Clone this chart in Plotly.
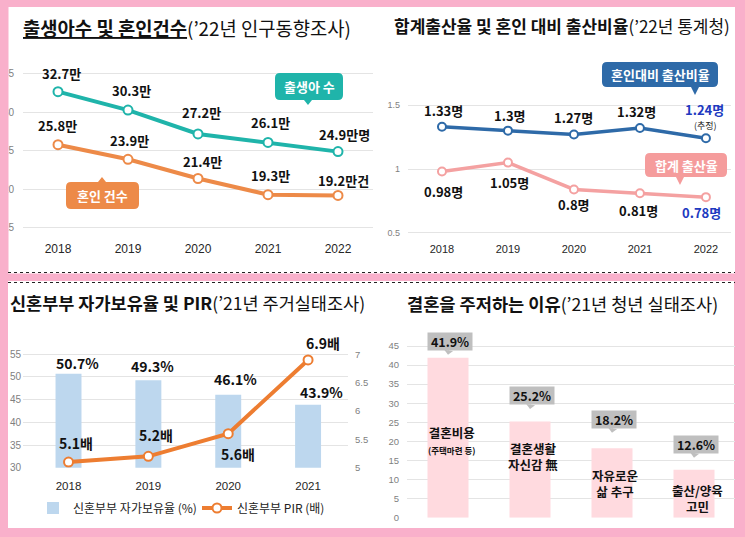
import plotly.graph_objects as go

W, H = 745, 537
PINK = '#F9B0CB'
KR = 'Noto Sans CJK KR'
NUM = 'Liberation Sans'

# ---------------- data ----------------
years = ['2018', '2019', '2020', '2021', '2022']
births = [32.7, 30.3, 27.2, 26.1, 24.9]
births_text = ['32.7만', '30.3만', '27.2만', '26.1만', '24.9만명']
marriages = [25.8, 23.9, 21.4, 19.3, 19.2]
marriages_text = ['25.8만', '23.9만', '21.4만', '19.3만', '19.2만건']

birth_ratio = [1.33, 1.30, 1.27, 1.32, 1.24]
birth_ratio_text = ['1.33명', '1.3명', '1.27명', '1.32명', '1.24명']
tfr = [0.98, 1.05, 0.84, 0.81, 0.78]
tfr_text = ['0.98명', '1.05명', '0.8명', '0.81명', '0.78명']

years_h = ['2018', '2019', '2020', '2021']
ownership = [50.7, 49.3, 46.1, 43.9]
ownership_text = ['50.7%', '49.3%', '46.1%', '43.9%']
pir = [5.1, 5.2, 5.6, 6.9]
pir_text = ['5.1배', '5.2배', '5.6배', '6.9배']

reasons = ['결혼비용', '결혼생활<br>자신감 無', '자유로운<br>삶 추구', '출산/양육<br>고민']
reason_notes = ['(주택마련 등)', '', '', '']
reason_pct = [41.9, 25.2, 18.2, 12.6]
reason_text = ['41.9%', '25.2%', '18.2%', '12.6%']

# ---------------- colours ----------------
TEAL = '#1FB4AA'
ORANGE = '#ED8A48'
BLUE = '#2E6AA8'
SALMON = '#F4A1A1'
NAVY_TXT = '#2039C0'
ORANGE2 = '#ED7D31'
LBLUE = '#BDD7EE'
LPINK = '#FFDADF'
GRID = '#E4E4E4'
GRAYBOX = '#BFBFBF'


def X(p):
    return p / W


def Y(p):
    return 1 - p / H


fig = go.Figure()

# ---------- top-left: births & marriages ----------
for vals, col in [(births, TEAL), (marriages, ORANGE)]:
    fig.add_trace(go.Scatter(
        x=years, y=vals, mode='lines+markers', xaxis='x', yaxis='y',
        line=dict(color=col, width=4),
        marker=dict(size=9, color='white', line=dict(color=col, width=2)),
        showlegend=False, hoverinfo='skip'))

# ---------- top-right: ratio & TFR ----------
for vals, col in [(birth_ratio, BLUE), (tfr, SALMON)]:
    fig.add_trace(go.Scatter(
        x=years, y=vals, mode='lines+markers', xaxis='x2', yaxis='y2',
        line=dict(color=col, width=3.5),
        marker=dict(size=8, color='white', line=dict(color=col, width=2)),
        showlegend=False, hoverinfo='skip'))

# ---------- bottom-left: ownership bars & PIR ----------
fig.add_trace(go.Bar(
    x=years_h, y=ownership, xaxis='x3', yaxis='y3', width=0.325,
    marker=dict(color=LBLUE, line=dict(width=0)),
    name='신혼부부 자가보유율 (%)', showlegend=True, hoverinfo='skip'))
fig.add_trace(go.Scatter(
    x=years_h, y=pir, mode='lines+markers', xaxis='x3', yaxis='y4',
    line=dict(color=ORANGE2, width=4),
    marker=dict(size=9, color='white', line=dict(color=ORANGE2, width=2)),
    name='신혼부부 PIR (배)', showlegend=True, hoverinfo='skip'))

# ---------- bottom-right: reasons ----------
fig.add_trace(go.Bar(
    x=reasons, y=reason_pct, xaxis='x4', yaxis='y5', width=0.5,
    marker=dict(color=LPINK, line=dict(width=0)),
    showlegend=False, hoverinfo='skip'))

ann = []


def lab(xref, yref, x, y, text, dx, dy, size=13, color='#111', bold=True):
    ann.append(dict(xref=xref, yref=yref, x=x, y=y, text=(f'<b>{text}</b>' if bold else text),
                    showarrow=False, xshift=dx, yshift=dy, xanchor='center', yanchor='middle',
                    font=dict(family=KR, size=size, color=color)))


# top-left labels (x given as category index)
b_dx = [3, 3, 3, 2, 6]
b_dy = [18, 20, 21, 20, 17]
m_dx = [-1, 1, 4, 2, 5]
m_dy = [19, 19, 17, 19, 15]
for i in range(len(years)):
    lab('x', 'y', i, births[i], births_text[i], b_dx[i], b_dy[i])
    lab('x', 'y', i, marriages[i], marriages_text[i], m_dx[i], m_dy[i])

# top-right labels
r_dx = [2, 2, 0, -3, -1]
r_dy = [16, 15, 17, 17, 29]
t_dx = [2, 2, 0, -1, -4]
t_dy = [-20, -20, -15, -17, -15]
for i in range(len(years)):
    c = NAVY_TXT if i == len(years) - 1 else '#111'
    lab('x2', 'y2', i, birth_ratio[i], birth_ratio_text[i], r_dx[i], r_dy[i], color=c)
    lab('x2', 'y2', i, tfr[i], tfr_text[i], t_dx[i], t_dy[i], color=c)
lab('x2', 'y2', len(years) - 1, birth_ratio[-1], '(추정)', 0, 13, size=9, color='#222', bold=False)

# bottom-left labels
o_dx = [9, 4, 7, 13]
o_dy = [11, 14, 16, 13]
p_dx = [7, 8, 10, 15]
p_dy = [19, 21, -20, 17]
for i in range(len(years_h)):
    lab('x3', 'y3', i, ownership[i], ownership_text[i], o_dx[i], o_dy[i], size=14)
    lab('x3', 'y4', i, pir[i], pir_text[i], p_dx[i], p_dy[i], size=14)

# bottom-right value boxes (with pointer) and category names
box_dy = [16.5, 26, 29, 25.5]
name_y = [20.6, 16.0, 9.0, 5.0]
for i, rs in enumerate(reasons):
    ann.append(dict(xref='x4', yref='y5', x=i, y=reason_pct[i], text=f'<b>{reason_text[i]}</b>',
                    showarrow=True, ax=2, ay=-13.5, axref='pixel', ayref='pixel',
                    arrowhead=1, arrowsize=1.5, arrowwidth=1, arrowcolor=GRAYBOX,
                    standoff=0, startstandoff=0,
                    xshift=0, yshift=box_dy[i] - 13.5, width=44, height=17, borderpad=0,
                    bgcolor=GRAYBOX, font=dict(family=KR, size=12.5, color='#111')))
    txt = f'<b>{rs}</b>'
    if reason_notes[i]:
        txt += f'<br><span style="font-size:8.5px"><b>{reason_notes[i]}</b></span>'
    ann.append(dict(xref='x4', yref='y5', x=i, y=name_y[i], text=txt,
                    showarrow=False, xshift=3, font=dict(family=KR, size=12.5, color='#111')))

# titles
titles = [
    (21, 27, '<u><b>출생아수 및 혼인건수</b></u>(’22년 인구동향조사)', 18.8),
    (392, 25, '<b>합계출산율 및 혼인 대비 출산비율</b>(’22년 통계청)', 17),
    (8, 302, '<b>신혼부부 자가보유율 및 PIR</b>(’21년 주거실태조사)', 17.5),
    (405, 303, '<b>결혼을 주저하는 이유</b>(’21년 청년 실태조사)', 17.6),
]
for tx, ty, tt, fs in titles:
    ann.append(dict(xref='paper', yref='paper', x=X(tx), y=Y(ty), xanchor='left', yanchor='middle',
                    text=tt, showarrow=False, font=dict(family=KR, size=fs, color='#111')))

# ---------------- shapes ----------------
shapes = []
shapes.append(dict(type='rect', xref='paper', yref='paper', x0=X(8), x1=X(735), y0=Y(273.5), y1=Y(7),
                   fillcolor='white', line=dict(width=0), layer='below'))
shapes.append(dict(type='rect', xref='paper', yref='paper', x0=X(8), x1=X(734), y0=Y(528), y1=Y(281),
                   fillcolor='white', line=dict(width=0), layer='below'))
shapes.append(dict(type='rect', xref='paper', yref='paper', x0=0, x1=X(8.5), y0=Y(273.5), y1=1,
                   fillcolor=PINK, line=dict(width=0), layer='above'))
for yy in (272.5, 282.5):
    shapes.append(dict(type='line', xref='paper', yref='paper', x0=X(8), x1=X(735), y0=Y(yy), y1=Y(yy),
                       line=dict(color='#222', width=1, dash='dot'), layer='above'))


def P(x, y):
    return f'{x / W:.5f},{1 - y / H:.5f}'


def callout(x0, y0, x1, y1, tipx, tipy, r=5, hw=4):
    d = f'M {P(x0 + r, y0)} '
    if tipy < y0:
        d += f'L {P(tipx - hw, y0)} L {P(tipx, tipy)} L {P(tipx + hw, y0)} '
    d += f'L {P(x1 - r, y0)} Q {P(x1, y0)} {P(x1, y0 + r)} L {P(x1, y1 - r)} Q {P(x1, y1)} {P(x1 - r, y1)} '
    if tipy > y1:
        d += f'L {P(tipx + hw, y1)} L {P(tipx, tipy)} L {P(tipx - hw, y1)} '
    d += f'L {P(x0 + r, y1)} Q {P(x0, y1)} {P(x0, y1 - r)} L {P(x0, y0 + r)} Q {P(x0, y0)} {P(x0 + r, y0)} Z'
    return d


callouts = [
    (275, 73, 343, 100, 308, 105, TEAL, '출생아 수'),
    (66, 182, 139, 209, 102, 177, ORANGE, '혼인 건수'),
    (602, 62, 718, 87, 695, 95, BLUE, '혼인대비 출산비율'),
    (645, 153, 727, 177, 680, 185, '#F59C9C', '합계 출산율'),
]
for x0, y0, x1, y1, tx, ty, col, txt in callouts:
    shapes.append(dict(type='path', xref='paper', yref='paper', path=callout(x0, y0, x1, y1, tx, ty),
                       fillcolor=col, line=dict(width=0), layer='above'))
    ann.append(dict(xref='paper', yref='paper', x=X((x0 + x1) / 2), y=Y((y0 + y1) / 2),
                    xanchor='center', yanchor='middle', text=f'<b>{txt}</b>',
                    showarrow=False, font=dict(family=KR, size=13, color='white')))


# ---------------- axes ----------------
def xax(dom, rng, cats, anchor, show=True, size=12, standoff=0):
    return dict(domain=[X(dom[0]), X(dom[1])], range=rng, type='category', categoryorder='array',
                categoryarray=cats, anchor=anchor, showgrid=False, zeroline=False, showline=False,
                ticks='', showticklabels=show, ticklabelstandoff=standoff, automargin=False,
                tickfont=dict(family=NUM, size=size, color='#262626'), fixedrange=True)


def yax(dom, rng, dtick, anchor, size=10, standoff=6, grid=True, **kw):
    d = dict(domain=[Y(dom[0]), Y(dom[1])], range=rng, dtick=dtick, tick0=0, anchor=anchor,
             showgrid=grid, gridcolor=GRID, gridwidth=1, zeroline=False, showline=False, ticks='',
             ticklabelstandoff=standoff, automargin=False,
             tickfont=dict(family=NUM, size=size, color='#7F7F7F'), fixedrange=True)
    d.update(kw)
    return d


fig.update_layout(
    template='none',
    width=W, height=H, margin=dict(l=0, r=0, t=0, b=0, pad=0),
    paper_bgcolor=PINK, plot_bgcolor='rgba(0,0,0,0)',
    xaxis=xax((23, 373), [-0.5, 4.5], years, 'y', size=12, standoff=2),
    yaxis=yax((238, 55), [13.66, 37.47], 5, 'x', size=10, standoff=8),
    xaxis2=xax((408, 731), [-0.515, 4.38], years, 'y2', size=11, standoff=2),
    yaxis2=yax((239, 60), [0.453, 1.852], 0.5, 'x2', size=9, standoff=7),
    xaxis3=xax((23, 348), [-0.57, 3.5], years_h, 'y3', size=11.5, standoff=10),
    yaxis3=yax((467.7, 340), [30, 58.15], 5, 'x3', size=10, standoff=1),
    yaxis4=yax((467.7, 340), [5, 7.252], 0.5, 'x3', size=9.5, standoff=6, grid=False,
               overlaying='y3', side='right'),
    xaxis4=xax((407, 735), [-0.5, 3.5], reasons, 'y5', show=False),
    yaxis5=yax((517.7, 330), [0, 49.2], 5, 'x4', size=9.5, standoff=7),
    bargap=0.5,
    showlegend=True,
    legend=dict(orientation='h', x=X(33), y=Y(508), xanchor='left', yanchor='middle',
                bgcolor='rgba(0,0,0,0)', font=dict(family=KR, size=12, color='#222'),
                itemwidth=30, tracegroupgap=0, entrywidth=119, entrywidthmode='pixels'),
    annotations=ann, shapes=shapes,
)

fig.write_html('out.html', config={'displayModeBar': False, 'staticPlot': True},
               post_script="document.body.style.margin='0';document.body.style.padding='0';"
                           "document.body.style.overflow='hidden';")
